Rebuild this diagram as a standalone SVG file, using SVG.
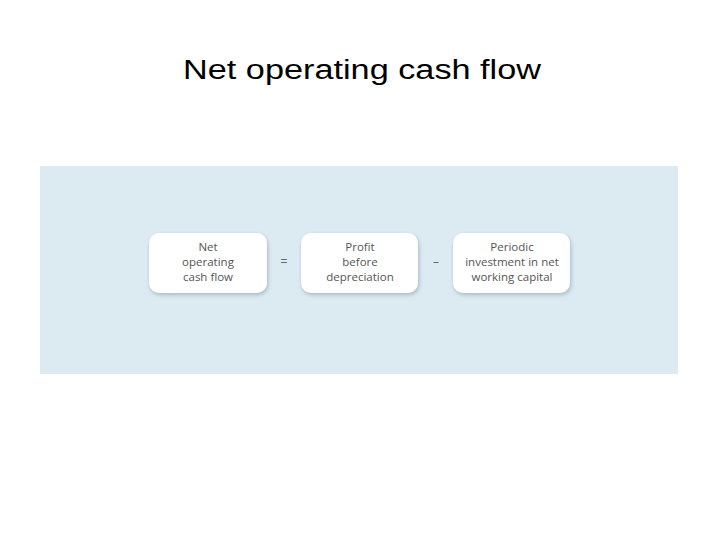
<svg xmlns="http://www.w3.org/2000/svg" width="720" height="540" viewBox="0 0 720 540">
<defs>
<filter id="sh" x="-20%" y="-20%" width="140%" height="150%"><feDropShadow dx="1" dy="2" stdDeviation="2" flood-color="#7f9aa8" flood-opacity="0.6"/></filter>
<style>
.b{fill:#fff;filter:url(#sh)}
.t{font-family:"Open Sans","DejaVu Sans",sans-serif;font-size:11.5px;fill:#555;text-anchor:middle}
.op{font-family:"Open Sans","DejaVu Sans",sans-serif;font-size:12px;fill:#666;text-anchor:middle}
</style>
</defs>
<rect width="720" height="540" fill="#fff"/>
<text x="362" y="79" font-family="Liberation Sans, Arial, sans-serif" font-size="27" font-weight="500" text-anchor="middle" fill="#000" textLength="358" lengthAdjust="spacingAndGlyphs">Net operating cash flow</text>
<rect x="40" y="166" width="638" height="208" fill="#dcebf2"/>
<g id="n1"><rect class="b" x="149" y="233" width="118" height="60" rx="10"/>
<text class="t" x="208" y="251">Net</text><text class="t" x="208" y="266">operating</text><text class="t" x="208" y="281">cash flow</text></g>
<g id="n2"><rect class="b" x="301" y="233" width="117" height="60" rx="10"/>
<text class="t" x="360" y="251">Profit</text><text class="t" x="360" y="266">before</text><text class="t" x="360" y="281">depreciation</text></g>
<g id="n3"><rect class="b" x="453" y="233" width="117" height="60" rx="10"/>
<text class="t" x="512" y="251">Periodic</text><text class="t" x="512" y="266">investment in net</text><text class="t" x="512" y="281">working capital</text></g>
<g id="connectors"><text class="op" x="284" y="266">=</text><text class="op" x="436" y="266">–</text></g>
</svg>
